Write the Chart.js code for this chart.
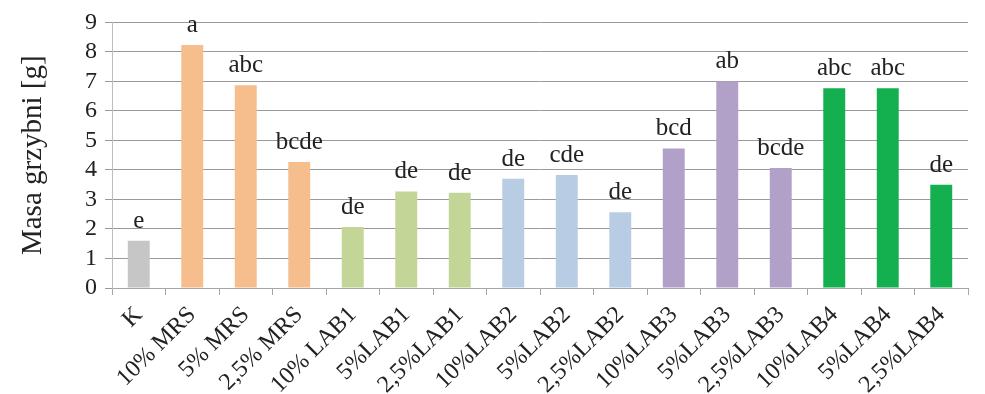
<!DOCTYPE html>
<html>
<head>
<meta charset="utf-8">
<script src="https://cdn.jsdelivr.net/npm/chart.js"></script>
<style>
  html, body { margin: 0; padding: 0; background: #fff; }
  #wrap { width: 985px; height: 394px; }
</style>
</head>
<body>
<div id="wrap"><canvas id="chart-masa" width="985" height="394"></canvas></div>
<script>
var labels = ['K', '10% MRS', '5% MRS', '2,5% MRS', '10% LAB1', '5%LAB1', '2,5%LAB1',
  '10%LAB2', '5%LAB2', '2,5%LAB2', '10%LAB3', '5%LAB3', '2,5%LAB3', '10%LAB4', '5%LAB4', '2,5%LAB4'];

var masa = [1.6, 8.23, 6.87, 4.27, 2.07, 3.27, 3.23, 3.7, 3.83, 2.57, 4.73, 7.0, 4.07, 6.77, 6.77, 3.5];

// homogeneous groups written above each bar
var grupy = ['e', 'a', 'abc', 'bcde', 'de', 'de', 'de', 'de', 'cde', 'de', 'bcd', 'ab', 'bcde', 'abc', 'abc', 'de'];

var kolory = ['#c6c6c6',
  '#f7be8d', '#f7be8d', '#f7be8d',
  '#c3d597', '#c3d597', '#c3d597',
  '#b8cce4', '#b8cce4', '#b8cce4',
  '#b1a0c7', '#b1a0c7', '#b1a0c7',
  '#14af4f', '#14af4f', '#14af4f'];

var serif = 'Liberation Serif';

var letterPlugin = {
  id: 'letters',
  afterDatasetsDraw: function(chart) {
    var ctx = chart.ctx;
    var meta = chart.getDatasetMeta(0);
    ctx.save();
    ctx.font = '25px "' + serif + '"';
    ctx.fillStyle = '#222';
    ctx.textAlign = 'center';
    ctx.textBaseline = 'alphabetic';
    meta.data.forEach(function(bar, i) {
      ctx.fillText(grupy[i], bar.x, bar.y - 13);
    });
    ctx.restore();
  }
};

var ctx = document.getElementById('chart-masa').getContext('2d');
var chart = new Chart(ctx, {
  type: 'bar',
  data: {
    labels: labels,
    datasets: [{
      data: masa,
      backgroundColor: kolory,
      barPercentage: 0.41,
      categoryPercentage: 1.0
    }]
  },
  options: {
    responsive: false,
    animation: false,
    layout: { padding: { top: 18, right: 17, left: 0, bottom: 0 } },
    plugins: {
      legend: { display: false },
      tooltip: { enabled: false }
    },
    scales: {
      x: {
        grid: { offset: true, drawOnChartArea: false, tickLength: 7, color: '#a6a6a6' },
        border: { color: '#a6a6a6' },
        ticks: {
          font: { family: serif, size: 24 },
          color: '#222',
          maxRotation: 45,
          minRotation: 45,
          autoSkip: false,
          padding: 6
        },
        afterFit: function(scale) { scale.height = 106; }
      },
      y: {
        min: 0,
        max: 9,
        grid: { color: '#9a9a9a', tickLength: 7 },
        border: { color: '#bdbdbd' },
        ticks: {
          stepSize: 1,
          autoSkip: false,
          font: { family: serif, size: 24 },
          color: '#222',
          padding: 8
        },
        title: {
          display: true,
          text: 'Masa grzybni [g]',
          font: { family: serif, size: 29 },
          color: '#222',
          padding: { top: 16, bottom: 0 }
        },
        afterFit: function(scale) { scale.width = 112; }
      }
    }
  },
  plugins: [letterPlugin]
});
</script>
</body>
</html>
